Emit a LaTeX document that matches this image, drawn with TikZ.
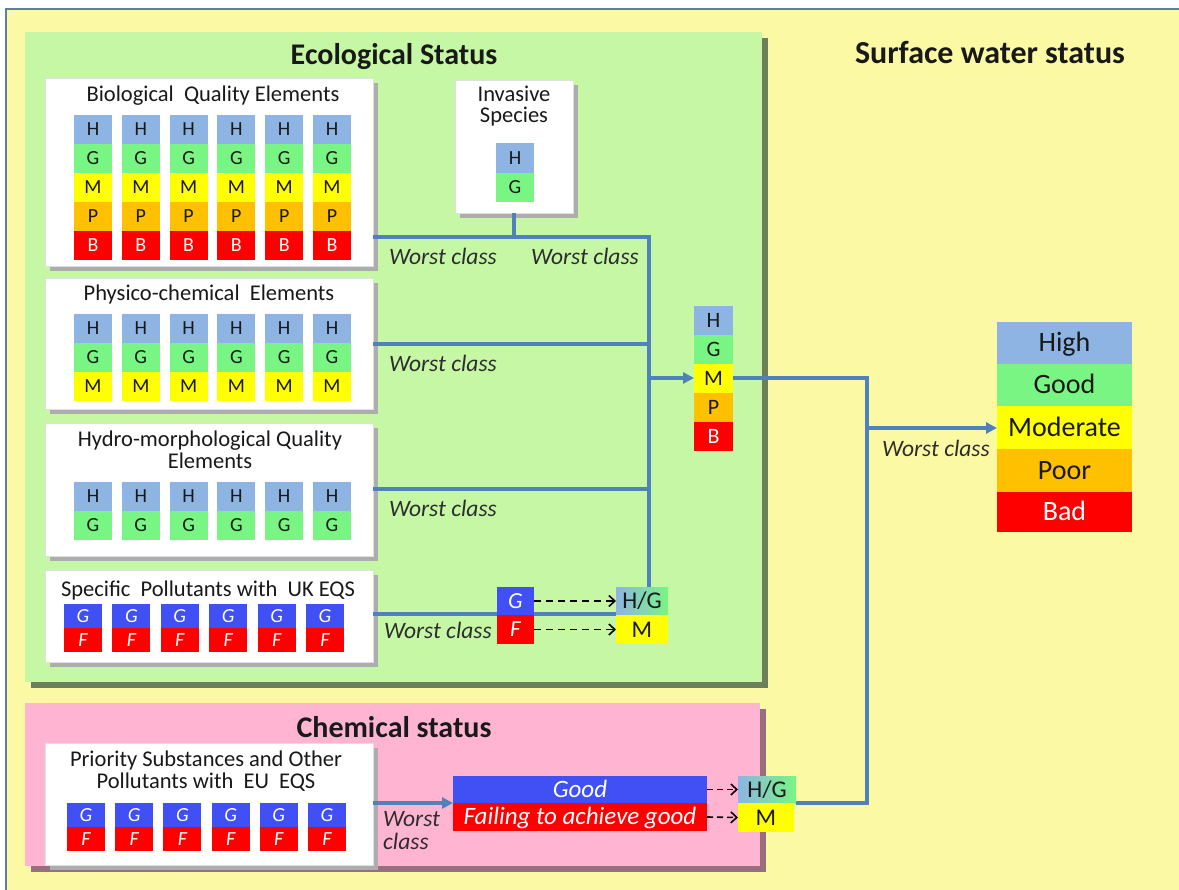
\documentclass[tikz,border=0pt]{standalone}
\usepackage{fontspec}
\setmainfont{Carlito}
\usetikzlibrary{shadows,arrows.meta}
\definecolor{bgyellow}{RGB}{251,249,163}
\definecolor{outerline}{RGB}{95,125,165}
\definecolor{ecogreen}{RGB}{197,247,165}
\definecolor{ecoshadow}{RGB}{108,126,92}
\definecolor{chempink}{RGB}{255,180,210}
\definecolor{chemshadow}{RGB}{150,112,125}
\definecolor{hcol}{RGB}{142,180,227}
\definecolor{gcol}{RGB}{120,245,130}
\definecolor{mcol}{RGB}{255,255,0}
\definecolor{pcol}{RGB}{255,192,0}
\definecolor{bcol}{RGB}{255,0,0}
\definecolor{gblue}{RGB}{64,80,245}
\definecolor{conn}{RGB}{79,129,189}
\definecolor{txt}{RGB}{25,25,25}
\definecolor{wctxt}{RGB}{45,45,45}
\newcommand\mytitlefont{\fontsize{30}{34}\selectfont\bfseries}
\newcommand\myboxfont{\fontsize{22.5}{25}\selectfont}
\newcommand\mycellfont{\fontsize{20}{22}\selectfont}
\newcommand\mywcfont{\fontsize{23.5}{26}\selectfont\itshape}
\newcommand\mylegfont{\fontsize{28}{32}\selectfont}
\begin{document}
\begin{tikzpicture}[x=1pt,y=-1pt,
  panel/.style={anchor=north west, inner sep=0pt, outer sep=0pt},
  wbox/.style={panel, fill=white, draw=black!12, line width=0.6pt,
    drop shadow={shadow xshift=5pt, shadow yshift=-5pt, fill=black!32, opacity=1}},
  cell/.style={anchor=north west, inner sep=0pt, outer sep=0pt, minimum width=38pt,
    minimum height=29pt, text height=13pt, text depth=0pt, font=\mycellfont, text=txt},
  hcell/.style={cell, fill=hcol},
  gcell/.style={cell, fill=gcol},
  mcell/.style={cell, fill=mcol},
  pcell/.style={cell, fill=pcol},
  bcell/.style={cell, fill=bcol, text=white},
  gfcell/.style={cell, minimum height=24pt, text=white, font=\mycellfont\itshape},
  gocell/.style={gfcell, fill=gblue},
  facell/.style={gfcell, fill=bcol},
  boxtitle/.style={anchor=base, inner sep=0pt, font=\myboxfont, text=txt},
  bigtitle/.style={anchor=base, inner sep=0pt, font=\mytitlefont, text=txt},
  wc/.style={anchor=base, inner sep=0pt, font=\mywcfont, text=wctxt},
  legcell/.style={anchor=north west, inner sep=0pt, outer sep=0pt, minimum width=135pt,
    minimum height=42pt, text height=18pt, text depth=0pt, font=\mylegfont, text=txt},
  wire/.style={conn, line width=3.5pt},
  wirearrow/.style={wire, -{Triangle[length=11pt,width=11pt]}},
  dasharrow/.style={black, line width=1.6pt, dash pattern=on 7pt off 5pt, -{Straight Barb[length=6pt,width=11pt]}},
]
\useasboundingbox (0,0) rectangle (1179,890);
\fill[white] (0,0) rectangle (1179,890);
% outer surface water panel
\filldraw[fill=bgyellow, draw=outerline, line width=1.3pt] (6,9) rectangle (1195,905);
\node[bigtitle, font=\fontsize{32}{36}\selectfont\bfseries] (swtitle) at (990,64) {Surface water status};

% ecological status panel
\node[panel, fill=ecogreen, minimum width=737pt, minimum height=650pt,
  drop shadow={shadow xshift=6pt, shadow yshift=-6pt, fill=ecoshadow, opacity=1}] (eco) at (25,32) {};
\node[bigtitle] (ecotitle) at (394,65) {Ecological Status};

% chemical status panel
\node[panel, fill=chempink, minimum width=735pt, minimum height=163pt,
  drop shadow={shadow xshift=6pt, shadow yshift=-6pt, fill=chemshadow, opacity=1}] (chem) at (25,703) {};
\node[bigtitle] (chemtitle) at (394,737) {Chemical status};

% white boxes
\node[wbox, minimum width=328pt, minimum height=188pt] (bio) at (45,78) {};
\node[wbox, minimum width=118pt, minimum height=133pt] (inv) at (455,80) {};
\node[wbox, minimum width=328pt, minimum height=131pt] (phys) at (45,278) {};
\node[wbox, minimum width=328pt, minimum height=133pt] (hydro) at (45,423) {};
\node[wbox, minimum width=328pt, minimum height=92pt] (spec) at (45,570) {};
\node[wbox, minimum width=328pt, minimum height=122pt] (prio) at (45,743) {};

\node[boxtitle] (biot) at (213,102) {Biological\ \ Quality Elements};
\node[boxtitle] (invt1) at (514,102) {Invasive};
\node[boxtitle] (invt2) at (514,123) {Species};
\node[boxtitle] (physt) at (209,301) {Physico-chemical\ \ Elements};
\node[boxtitle] (hydrot1) at (210,447) {Hydro-morphological Quality};
\node[boxtitle] (hydrot2) at (210,469) {Elements};
\node[boxtitle] (spect) at (208,597) {Specific\ \ Pollutants with\ \ UK EQS};
\node[boxtitle] (priot1) at (206,766) {Priority Substances and Other};
\node[boxtitle] (priot2) at (206,788) {Pollutants with\ \ EU\ \ EQS};

% junction coordinates
\coordinate (jtop) at (649,237);
\coordinate (jphys) at (649,344);
\coordinate (jhydro) at (649,489);
\coordinate (jarr) at (649,378);
\coordinate (jright) at (867,378);
\coordinate (jleg) at (867,428);
\coordinate (jbot) at (867,803);

% connectors (drawn under the class blocks)
\draw[wire] (inv.south) -- (inv.south |- jtop);
\draw[wire] (bio.east |- jtop) -- (jtop) -- (649,588);
\draw[wire] (phys.east |- jphys) -- (jphys);
\draw[wire] (hydro.east |- jhydro) -- (jhydro);
\draw[wire] (spec.east |- 0,614) -- (616,614);
\draw[wirearrow] (jarr) -- (694,378);
\draw[wire] (733,378) -- (jright) -- (jbot) -- (796,803);
\draw[wirearrow] (jleg) -- (997,428);
\draw[wirearrow] (prio.east |- 0,803) -- (453,803);

% biological cells
\foreach \i in {1,...,6}{
  \pgfmathsetmacro\xx{74+47.8*(\i-1)}
  \node[hcell] (bio\i H) at (\xx,115) {H};
  \node[gcell] (bio\i G) at (\xx,144) {G};
  \node[mcell] (bio\i M) at (\xx,173) {M};
  \node[pcell] (bio\i P) at (\xx,202) {P};
  \node[bcell] (bio\i B) at (\xx,231) {B};
  \node[hcell] (phy\i H) at (\xx,314) {H};
  \node[gcell] (phy\i G) at (\xx,343) {G};
  \node[mcell] (phy\i M) at (\xx,372) {M};
  \node[hcell] (hyd\i H) at (\xx,482) {H};
  \node[gcell] (hyd\i G) at (\xx,511) {G};
  \pgfmathsetmacro\xs{64+48.4*(\i-1)}
  \node[gocell] (spe\i G) at (\xs,604) {G};
  \node[facell] (spe\i F) at (\xs,628) {F};
  \pgfmathsetmacro\xp{67+48.2*(\i-1)}
  \node[gocell] (pri\i G) at (\xp,803) {G};
  \node[facell] (pri\i F) at (\xp,827) {F};
}

% invasive species cells
\node[hcell, minimum height=30pt] (invH) at (496,143) {H};
\node[gcell] (invG) at (496,173) {G};

% combined ecological class
\node[hcell, minimum width=39pt, font=\fontsize{22}{24}\selectfont, text height=14pt] (ecoH) at (694,306) {H};
\node[gcell, minimum width=39pt, font=\fontsize{22}{24}\selectfont, text height=14pt] (ecoG) at (694,335) {G};
\node[mcell, minimum width=39pt, font=\fontsize{22}{24}\selectfont, text height=14pt] (ecoM) at (694,364) {M};
\node[pcell, minimum width=39pt, font=\fontsize{22}{24}\selectfont, text height=14pt] (ecoP) at (694,393) {P};
\node[bcell, minimum width=39pt, font=\fontsize{22}{24}\selectfont, text height=14pt] (ecoB) at (694,422) {B};

% specific pollutants result
\node[gocell, minimum width=37pt, minimum height=28pt, text height=14pt, font=\fontsize{23}{25}\selectfont\itshape] (spG) at (497,587) {G};
\node[facell, minimum width=37pt, minimum height=29pt, text height=14pt, font=\fontsize{23}{25}\selectfont\itshape] (spF) at (497,615) {F};
\node[cell, minimum width=52pt, minimum height=28pt, text height=15pt, left color=hcol, right color=gcol, font=\fontsize{24}{26}\selectfont] (spHG) at (616,587) {H/G};
\node[mcell, minimum width=52pt, minimum height=29pt, text height=15pt, font=\fontsize{24}{26}\selectfont] (spM) at (616,615) {M};
\draw[dasharrow] (spG.east) -- (spHG.west);
\draw[dasharrow] (spF.east) -- (spM.west);

% chemical result
\node[cell, fill=gblue, text=white, minimum width=254pt, minimum height=27pt, text height=15pt, font=\fontsize{25}{27}\selectfont\itshape] (chGood) at (453,776) {Good};
\node[cell, fill=bcol, text=white, minimum width=254pt, minimum height=28pt, text height=15pt, font=\fontsize{25}{27}\selectfont\itshape] (chFail) at (453,803) {Failing to achieve good};
\node[cell, minimum width=58pt, minimum height=27pt, text height=15pt, left color=hcol, right color=gcol, font=\fontsize{24}{26}\selectfont] (chHG) at (738,776) {H/G};
\node[mcell, minimum width=56pt, minimum height=29pt, text height=15pt, font=\fontsize{24}{26}\selectfont] (chM) at (738,803) {M};
\draw[dasharrow, dash pattern=on 6pt off 4pt] (chGood.east) -- (chHG.west);
\draw[dasharrow, dash pattern=on 6pt off 4pt] (chFail.east) -- (chM.west);

% legend
\node[legcell, fill=hcol] (legH) at (997,322) {High};
\node[legcell, fill=gcol] (legG) at (997,364) {Good};
\node[legcell, fill=mcol, minimum height=43pt] (legM) at (997,406) {Moderate};
\node[legcell, fill=pcol, minimum height=43pt] (legP) at (997,449) {Poor};
\node[legcell, fill=bcol, minimum height=40pt, text=white] (legB) at (997,492) {Bad};

% worst class labels
\node[wc] (wc1) at (443,265) {Worst class};
\node[wc] (wc2) at (585,265) {Worst class};
\node[wc] (wc3) at (443,372) {Worst class};
\node[wc] (wc4) at (443,517) {Worst class};
\node[wc, anchor=base east] (wc5) at (492,638) {Worst class};
\node[wc, anchor=base west] (wc6a) at (383,826) {Worst};
\node[wc, anchor=base west] (wc6b) at (383,849) {class};
\node[wc, anchor=base east] (wc7) at (990,457) {Worst class};
\end{tikzpicture}
\end{document}
